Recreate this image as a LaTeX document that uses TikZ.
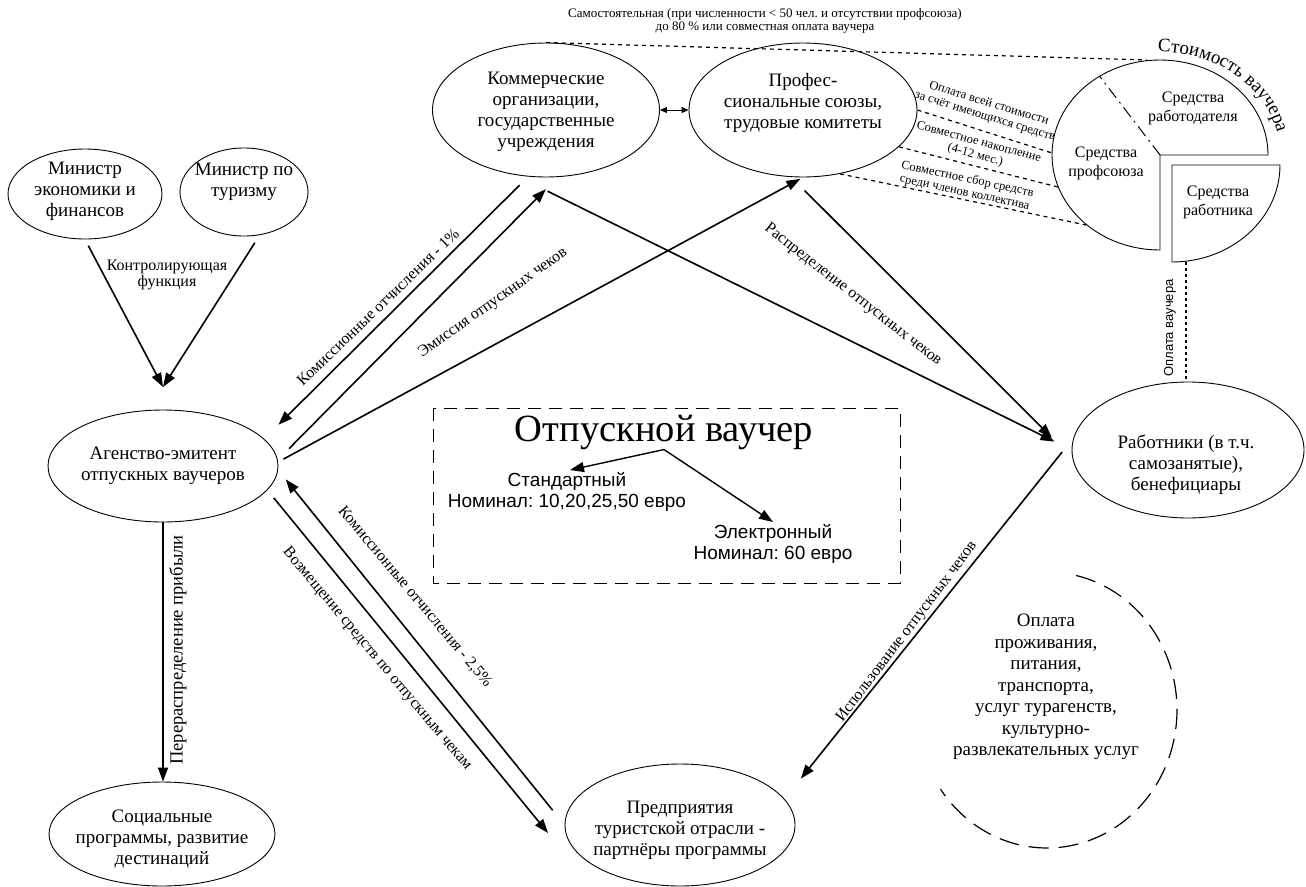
\documentclass[tikz,border=0pt]{standalone}
\usepackage{fontspec}
\setmainfont{Liberation Serif}
\setsansfont{Liberation Sans}
\usetikzlibrary{shapes.geometric, arrows.meta, decorations.text, calc}
\frenchspacing

\tikzset{
  oval/.style={draw, ellipse, inner sep=0pt, line width=0.9pt},
  txt/.style={font=\fontsize{19}{20.8}\selectfont, align=center, inner sep=0pt},
  lbl/.style={font=\fontsize{16}{18}\selectfont, inner sep=0pt},
  small/.style={font=\fontsize{12.5}{13.5}\selectfont, align=center, inner sep=0pt},
  pietxt/.style={font=\fontsize{16}{19}\selectfont, align=center, inner sep=0pt},
  sanstxt/.style={font=\sffamily\fontsize{19}{21.5}\selectfont, align=center, inner sep=0pt},
  arr/.style={line width=1.6pt, -{Triangle[length=14pt,width=10pt]}},
  thinarr/.style={line width=1pt, {Triangle[length=7pt,width=6pt]}-{Triangle[length=7pt,width=6pt]}},
  boxarr/.style={line width=1.4pt, -{Triangle[length=14pt,width=10pt]}},
  link/.style={line width=1.2pt, dash pattern=on 4pt off 4pt},
  dots/.style={line width=1.6pt, dash pattern=on 3pt off 3pt},
  framedash/.style={line width=1pt, dash pattern=on 13pt off 8pt},
  ovaldash/.style={line width=1.2pt, dash pattern=on 20pt off 10pt},
  piecut/.style={line width=1pt, dash pattern=on 12pt off 5pt on 2pt off 5pt},
}

\begin{document}
\begin{tikzpicture}[x=1pt,y=-1pt]
\useasboundingbox (0,0) rectangle (1306,886);
\fill[white] (0,0) rectangle (1306,886);

% ---------- ellipses ----------
\node[oval, minimum width=154pt, minimum height=90pt] (min1) at (85,194) {};
\node[txt] (min1-t) at ($(min1)+(0,-3)$) {Министр\\экономики и\\финансов};

\node[oval, minimum width=128pt, minimum height=88pt] (min2) at (244,192) {};
\node[txt] (min2-t) at ($(min2)+(0,-10)$) {Министр по\\туризму};

\node[oval, minimum width=230pt, minimum height=112pt] (ag) at (163,466) {};
\node[txt] (ag-t) at (ag) {Агенство-эмитент\\отпускных ваучеров};

\node[oval, minimum width=226pt, minimum height=104pt] (soc) at (162,834) {};
\node[txt] (soc-t) at ($(soc)+(0,5)$) {Социальные\\программы, развитие\\дестинаций};

\node[oval, minimum width=227pt, minimum height=134pt] (kom) at (546,110) {};
\node[txt] (kom-t) at ($(kom)+(0,2)$) {Коммерческие\\организации,\\государственные\\учреждения};

\node[oval, minimum width=228pt, minimum height=134pt] (prof) at (803,110) {};
\node[txt] (prof-t) at ($(prof)+(0,-7)$) {Профес-\\сиональные союзы,\\трудовые комитеты};

\node[oval, minimum width=232pt, minimum height=136pt] (wrk) at (1188,450) {};
\node[txt] (wrk-t) at ($(wrk)+(-2,15)$) {Работники (в т.ч.\\самозанятые),\\бенефициары};

\node[oval, minimum width=230pt, minimum height=122pt] (ent) at (680,825) {};
\node[txt] (ent-t) at ($(ent)+(0,5)$) {Предприятия\\туристской отрасли -\\партнёры программы};

% ---------- control function ----------
\coordinate (ctl) at (163,387);
\draw[arr, shorten <=7pt] (min1.south) -- (ctl);
\draw[arr, shorten <=9pt] (min2.-70) -- (ctl);
\node[font=\fontsize{16}{16.5}\selectfont, align=center, inner sep=0pt] (ctl-t) at (167,275) {Контролирующая\\функция};

% ---------- profit redistribution ----------
\draw[arr] (ag.south) -- (ag.south |- soc.north);
\node[lbl, font=\fontsize{18.5}{20}\selectfont, rotate=90] (redis) at (178,650) {Перераспределение прибыли};

% ---------- agency <-> employers and unions ----------
\draw[arr, shorten <=12pt, shorten >=20pt] (kom.255) -- (ag.15);
\draw[arr, shorten <=16pt, shorten >=17pt] (ag.3) -- (kom.280);
\draw[arr, shorten <=6pt, shorten >=3pt] (ag.2) -- (prof.south);
\node[lbl, rotate=44] (fee1) at (378,307) {Комиссионные отчисления - 1\%};
\node[lbl, rotate=35.5] (emis) at (493,303) {Эмиссия отпускных чеков};

\draw[thinarr] (kom.east) -- (prof.west);

% ---------- distribution to employees ----------
\draw[arr, shorten <=37pt, shorten >=19pt] (kom.244) -- (wrk.west);
\draw[arr, shorten <=19pt, shorten >=29pt] (prof.260) -- (wrk.184);
\node[lbl, rotate=-38] (distr) at (853,295) {Распределение отпускных чеков};

% ---------- use of the cheques ----------
\draw[arr, shorten <=18pt, shorten >=26pt] (wrk.174) -- (ent.14);
\node[lbl, rotate=52.8] (use) at (907,632) {Использование отпускных чеков};

% ---------- agency <-> tourism enterprises ----------
\draw[arr, shorten <=19pt, shorten >=12pt] (ent.west) -- (ag.-2);
\coordinate (ent-in) at (548,833);
\draw[arr, shorten <=10pt] (ag.-13) -- (ent-in);
\node[lbl, rotate=-50] (fee2) at (415,597) {Комиссионные отчисления - 2,5\%};
\node[lbl, rotate=-50] (refund) at (377,659) {Возмещение средств по отпускным чекам};

% ---------- voucher box ----------
\draw[framedash] (433,408) rectangle (900,583);
\node[font=\fontsize{38.5}{40}\selectfont, inner sep=0pt] (title) at (664,432) {Отпускной ваучер};
\node[sanstxt] (std) at (567,492) {Стандартный\\Номинал: 10,20,25,50 евро};
\node[sanstxt] (el) at (773,544) {Электронный\\Номинал: 60 евро};
\draw[boxarr] (title.south) -- ([xshift=3pt, yshift=2pt]std.north);
\draw[boxarr] (title.south) -- ([yshift=2pt]el.north);

% ---------- services paid ----------
\draw[ovaldash] (1076.2,575.5) arc[start angle=-77, end angle=145, x radius=130, y radius=138];
\node[txt, font=\fontsize{19}{21.5}\selectfont] (serv) at (1046,687) {Оплата\\проживания,\\питания,\\транспорта,\\услуг турагенств,\\культурно-\\развлекательных услуг};

% ---------- voucher cost pie ----------
\draw[line width=0.9pt] (1268,155) arc[start angle=0, end angle=-270, x radius=108, y radius=95] -- (1160,155) -- cycle;
\draw[line width=0.9pt] (1172,165) -- (1280,165) arc[start angle=0, end angle=90, x radius=108, y radius=97] -- cycle;
\draw[piecut] (1160,155) -- (1099.6,76.2);
\node[pietxt] (p-emp) at (1193,108) {Средства\\работодателя};
\node[pietxt] (p-uni) at (1106,163) {Средства\\профсоюза};
\node[pietxt] (p-wrk) at (1218,202) {Средства\\работника};
\path[decorate, decoration={text along path, text align=center,
    text={|\fontsize{19}{22}\selectfont|Стоимость ваучера}}]
  (1139.2,53.6) arc[start angle=-100, end angle=-2, x radius=120, y radius=103];

% ---------- links to the pie ----------
\coordinate (pie-top) at (1147,60);
\coordinate (pie-1) at (1052,153);
\coordinate (pie-2) at (1058,187);
\coordinate (pie-3) at (1086,225);
\coordinate (pie-bot) at (1186,262);
\draw[link] (kom.north) -- (pie-top);
\draw[link] (prof.east) -- (pie-1);
\draw[link] (prof.-21) -- (pie-2);
\draw[link] (prof.-60) -- (pie-3);
\draw[dots] (pie-bot) -- (pie-bot |- wrk.north);

\node[small, font=\fontsize{13}{13.5}\selectfont] (self) at (765,21) {Самостоятельная (при численности < 50 чел. и отсутствии профсоюза)\\до 80 \% или совместная оплата ваучера};
\node[small, rotate=-17] (n1) at (987,110) {Оплата всей стоимости\\за счёт имеющихся средств};
\node[small, rotate=-15] (n2) at (977,149) {Совместное накопление\\(4-12 мес.)};
\node[small, rotate=-12] (n3) at (966,186) {Совместное сбор средств\\среди членов коллектива};
\node[font=\sffamily\fontsize{13}{15}\selectfont, rotate=90, inner sep=0pt] (payv) at (1170,328) {Оплата ваучера};

\end{tikzpicture}
\end{document}
